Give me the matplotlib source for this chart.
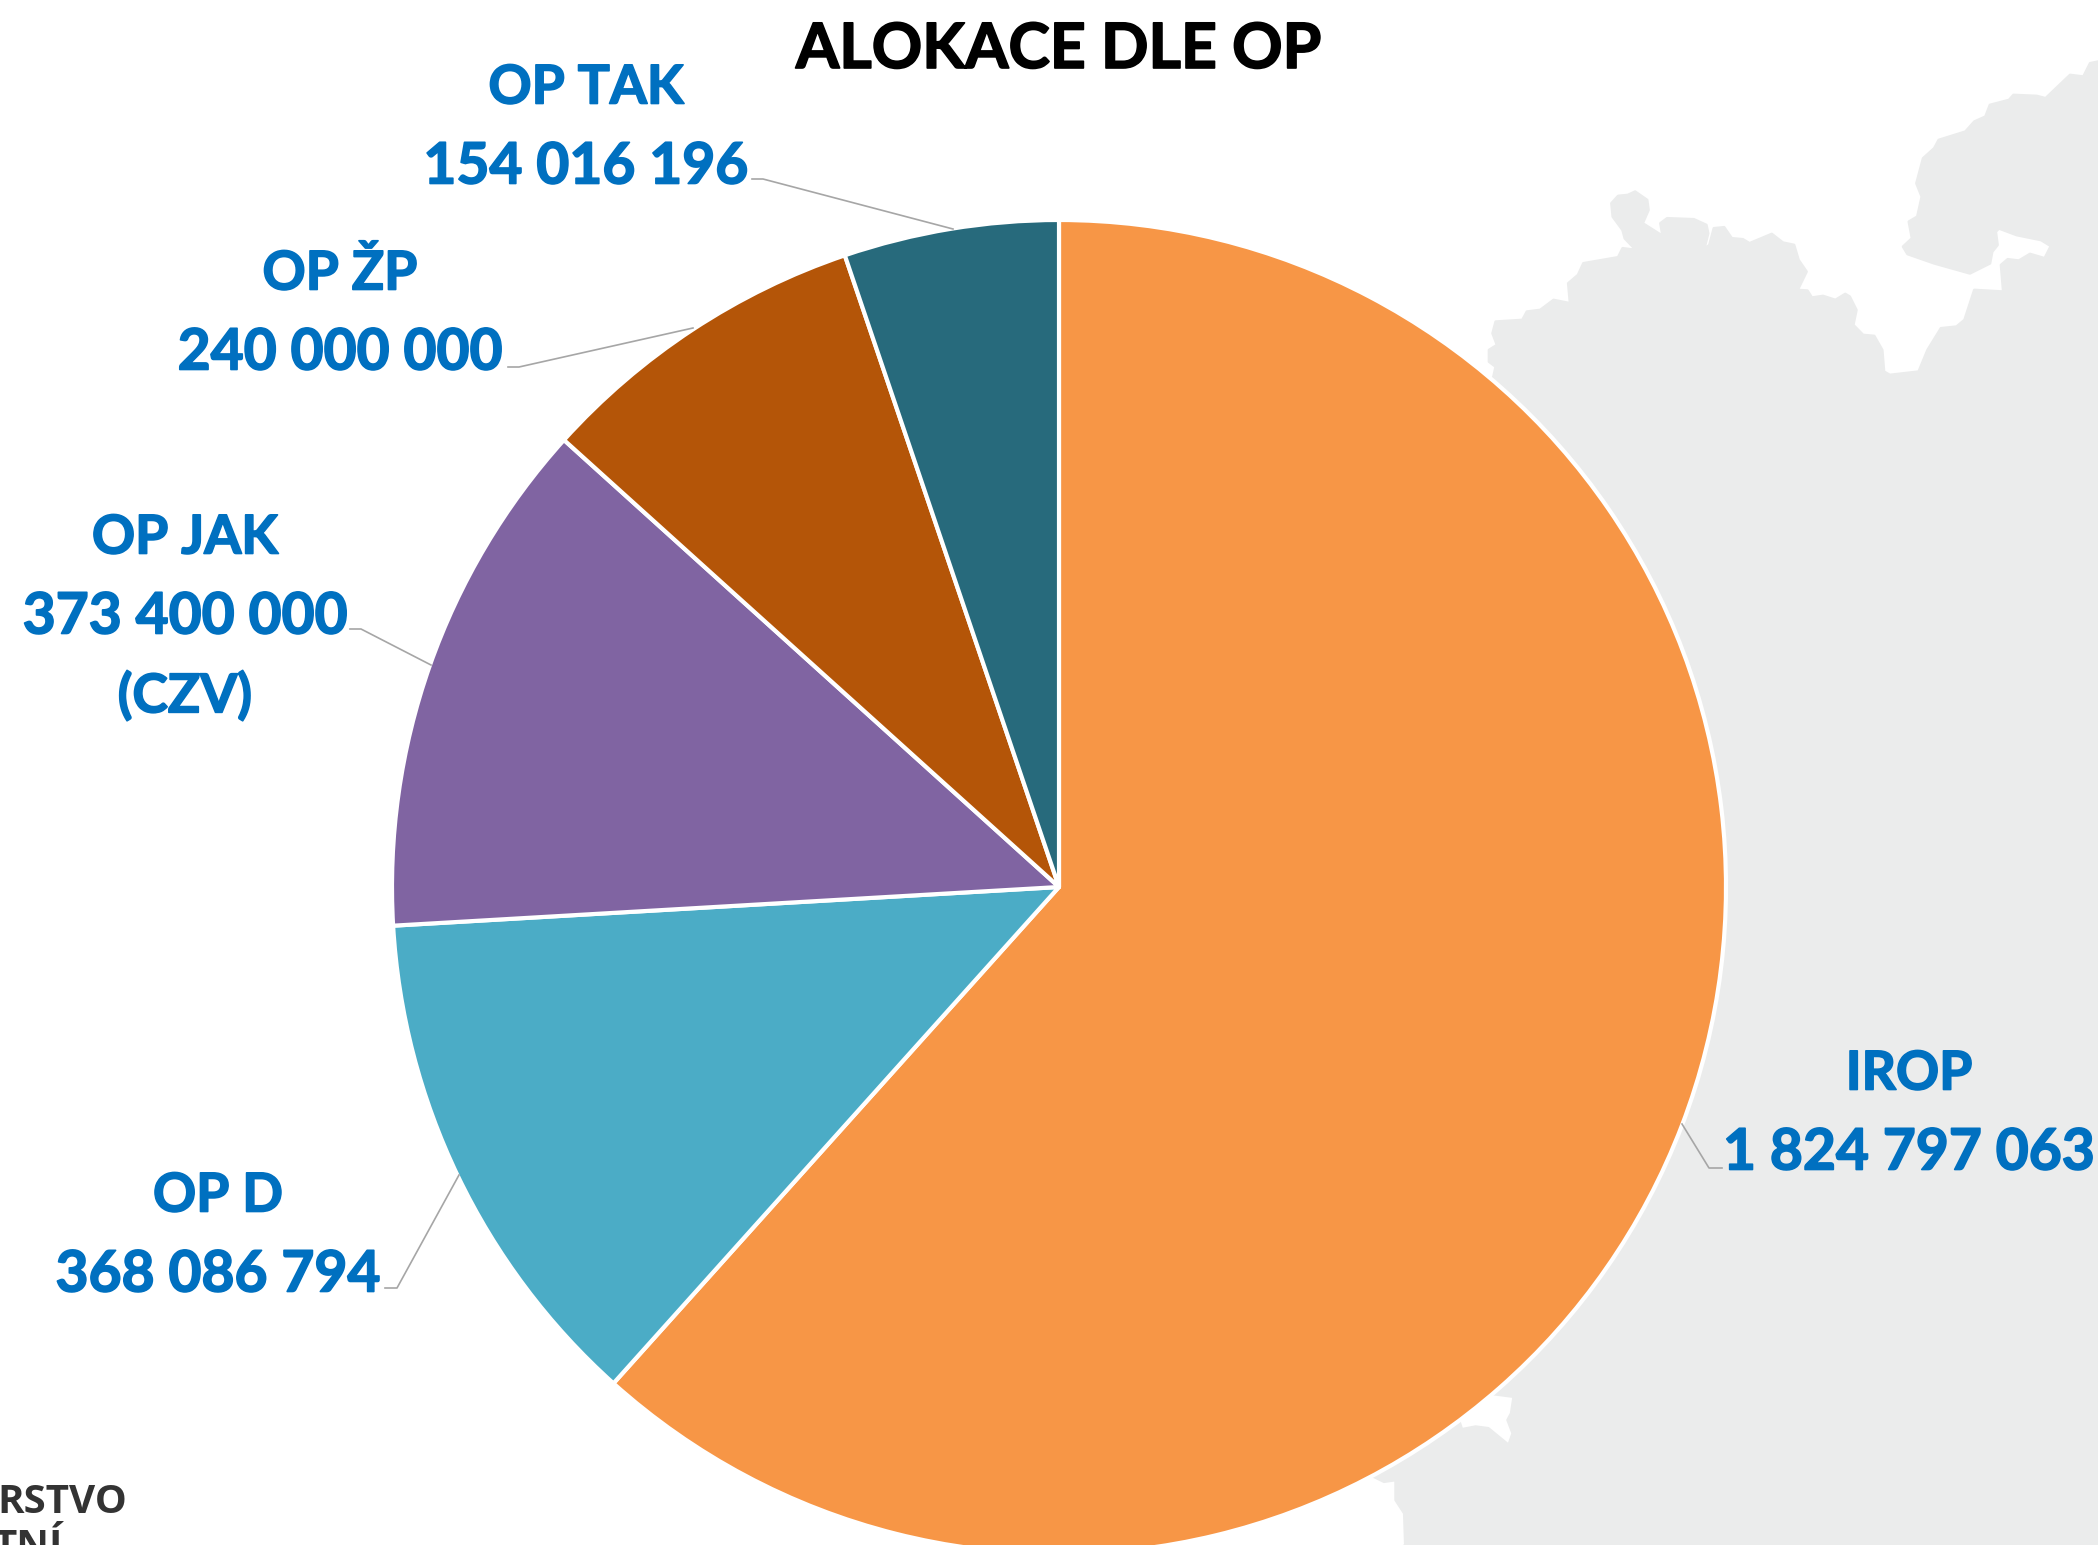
#!/usr/bin/env python3

from matplotlib import pyplot as plt
from matplotlib import patheffects
from matplotlib.patches import Polygon

W, H = 2098, 1545

# allocation per programme
categories = ['IROP', 'OP D', 'OP JAK', 'OP ŽP', 'OP TAK']
values = [1824797063, 368086794, 373400000, 240000000, 154016196]
value_labels = ['1 824 797 063', '368 086 794', '373 400 000', '240 000 000', '154 016 196']
colors = ['#F79646', '#4BACC6', '#8064A2', '#B45508', '#276A7C']

# label centre x and centre y of first line, in image pixels
label_x = [1909, 218, 185, 340, 586]
label_y = [1074, 1196, 538, 274, 88]
line_gap = 79

# leader lines, image pixels
leaders = [
    [(1722, 1168), (1709, 1168), (1682, 1124)],
    [(385, 1288), (397, 1288), (459, 1175)],
    [(350, 629), (361, 629), (431, 665)],
    [(508, 367), (519, 367), (693, 328)],
    [(752, 179), (763, 179), (953, 229)],
]

# grey background map outline
coast_top = [(210, 1130), (215, 1100), (200, 1085), (200, 1050), (218, 1035), (208, 1000), (215, 965), (275, 960),
             (285, 935), (315, 930), (345, 900), (382, 910), (378, 850), (400, 825), (412, 790), (490, 772),
             (500, 745), (530, 750), (505, 715), (500, 690), (478, 650), (475, 610), (490, 588), (512, 585),
             (528, 575), (555, 600), (558, 630), (545, 670), (590, 708), (585, 670), (600, 655), (660, 658),
             (688, 675), (692, 700), (683, 748), (695, 735), (705, 685), (728, 682), (745, 715), (770, 718),
             (785, 730), (835, 702), (860, 728), (885, 735), (895, 780), (913, 815), (893, 870), (915, 872),
             (925, 893), (950, 888), (978, 900), (1000, 882), (1010, 890), (1025, 930), (1018, 975), (1040, 1005),
             (1065, 1008), (1083, 1050), (1087, 1115), (1100, 1125), (1165, 1115), (1185, 1050), (1215, 985),
             (1250, 980), (1268, 960), (1290, 870), (1355, 875), (1350, 795), (1365, 778), (1390, 782), (1415, 762),
             (1448, 775), (1462, 738), (1440, 720), (1385, 705), (1345, 685), (1338, 695), (1342, 735), (1330, 755),
             (1325, 790), (1280, 820), (1200, 790), (1140, 762), (1130, 740), (1150, 715), (1143, 665), (1162, 650),
             (1172, 590), (1160, 550), (1175, 475), (1200, 445), (1210, 420), (1270, 395), (1290, 365), (1315, 350),
             (1325, 315), (1368, 300), (1378, 285), (1430, 288), (1450, 295), (1505, 225), (1535, 230), (1550, 190),
             (1568, 185)]
coast_bottom = [(207, 1335), (205, 1240), (188, 1200), (188, 1140), (165, 1145), (145, 1130)]
coast_bay = [(312, 960), (318, 988), (345, 980), (370, 985), (410, 1035), (418, 1000), (408, 960), (415, 940),
             (420, 890), (370, 880)]


def top_px(p):
    return (1400 + p[0] / 2.246, p[1] / 3)


def bottom_px(p):
    return (1300 + p[0] / 1.965, 1100 + p[1] / 3)


def flip(p):
    return (p[0], H - p[1])


fig = plt.figure(figsize=(W / 100, H / 100), dpi=100)
ax = fig.add_axes([0, 0, 1, 1])

outline = [bottom_px(p) for p in coast_bottom] + [(1300, 1300)] + [bottom_px(p) for p in coast_bay] + [(1300, 886)]
outline += [top_px(p) for p in coast_top] + [(W, 62), (W, H), (1405, H)]
ax.add_patch(Polygon([flip(p) for p in outline], closed=True, fc='#EBECEC', ec='#EBECEC', lw=2, joinstyle='round',
                     zorder=0))

ax.pie(values, colors=colors, startangle=90, counterclock=False, radius=667, center=(1059, H - 887),
       wedgeprops={'edgecolor': 'white', 'linewidth': 3, 'joinstyle': 'round'}, frame=True)
ax.set_xlim(0, W)
ax.set_ylim(0, H)
ax.axis('off')

for pts in leaders:
    ax.plot([p[0] for p in pts], [H - p[1] for p in pts], color='#A6A6A6', lw=1.2, zorder=3)

# Lato bold is a bit light next to the original, thicken it slightly
heavy = [patheffects.withStroke(linewidth=1.2, foreground='#0070C0')]
for i in range(len(categories)):
    lines = [categories[i], value_labels[i]]
    if categories[i] == 'OP JAK':
        lines.append('(CZV)')
    for j, line in enumerate(lines):
        size = 41 if line == value_labels[i] else 38.5
        ax.text(label_x[i], H - (label_y[i] + j * line_gap), line, color='#0070C0', fontsize=size, fontweight='bold',
                family='Lato', ha='center', va='center', zorder=4, path_effects=heavy)

ax.text(1058.5, H - 50, 'ALOKACE DLE OP', color='black', fontsize=45, fontweight='bold', family='Lato',
        ha='center', va='center', zorder=4,
        path_effects=[patheffects.withStroke(linewidth=1.2, foreground='black')])

# logo text cut off by the image edge
ax.text(127, H - 1513, 'RSTVO', color='#333333', fontsize=29, fontweight='bold', family='Open Sans', ha='right',
        va='baseline', zorder=4)
ax.text(63, H - 1558, 'TNÍ', color='#333333', fontsize=29, fontweight='bold', family='Open Sans', ha='right',
        va='baseline', zorder=4, clip_on=True)

fig.savefig('out.png', dpi=100)
